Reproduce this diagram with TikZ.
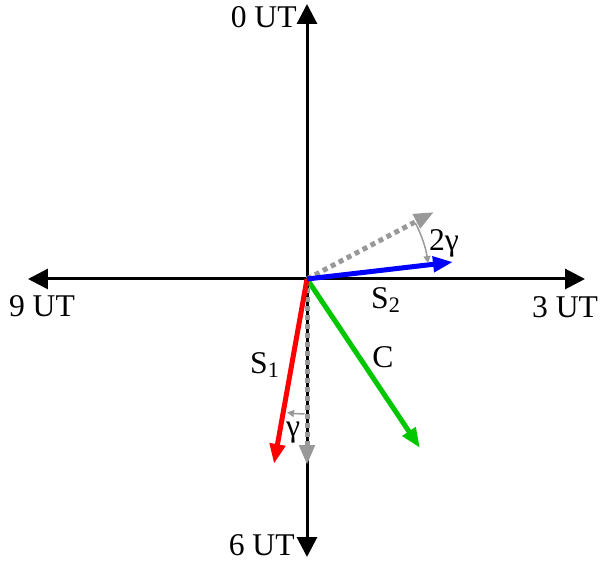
\documentclass[tikz,border=0pt]{standalone}
\usepackage{fontspec}
\setmainfont{Liberation Serif}
\usetikzlibrary{arrows.meta}

\begin{document}
\begin{tikzpicture}[x=0.02cm,y=0.02cm,line join=round,
  axis/.style={line width=0.06cm,-{Triangle[length=0.4cm,width=0.4cm]}},
  vec/.style={line width=0.1cm,-{Triangle[length=0.4cm,width=0.3cm]}},
  dotvec/.style={vec,gray!80,dash pattern=on 0.1cm off 0.08cm},
  angarc/.style={gray!80,line width=0.03cm,-{Triangle[length=0.14cm,width=0.14cm]}},
  lbl/.style={font=\fontsize{18}{21}\selectfont,inner sep=0pt}]
  \useasboundingbox (-307,-284) rectangle (294,279);
  \coordinate (O) at (0,0);
  \coordinate (N) at (0,275);
  \coordinate (S) at (0,-278);
  \coordinate (W) at (-279,0);
  \coordinate (E) at (278,0);
  \coordinate (S2tip) at (146,17);
  \coordinate (Rtip) at (127,67);
  \coordinate (S1tip) at (-33,-185);
  \coordinate (Vtip) at (0,-186);
  \coordinate (Ctip) at (113,-169);
  % axes
  \draw[axis] (O) -- (N);
  \draw[axis] (O) -- (S);
  \draw[axis] (O) -- (W);
  \draw[axis] (O) -- (E);
  % vectors
  \draw[dotvec] (O) -- (Vtip);
  \draw[dotvec] (O) -- (Rtip);
  \draw[vec,green!78!black] (O) -- (Ctip);
  \draw[vec,red] (O) -- (S1tip);
  \draw[vec,blue] (O) -- (S2tip);
  % angles
  \draw[angarc] (27.4:122) arc[start angle=27.4,end angle=7.5,radius=122];
  \draw[angarc] (-91:135) arc[start angle=-91,end angle=-98.5,radius=135];
  \node[lbl] (g2) at (137,36) {2γ};
  \node[lbl] (g1) at (-14,-154) {γ};
  % labels
  \node[lbl] (s1) at (-42,-86) {S\textsubscript{1}};
  \node[lbl] (s2) at (79,-21) {S\textsubscript{2}};
  \node[lbl] (c) at (76,-78) {C};
  \node[lbl,anchor=east] (t0) at (-10,262) {0 UT};
  \node[lbl,anchor=east] (t6) at (-12,-266) {6 UT};
  \node[lbl] (t9) at (-265,-27) {9 UT};
  \node[lbl] (t3) at (258,-28) {3 UT};
\end{tikzpicture}
\end{document}
